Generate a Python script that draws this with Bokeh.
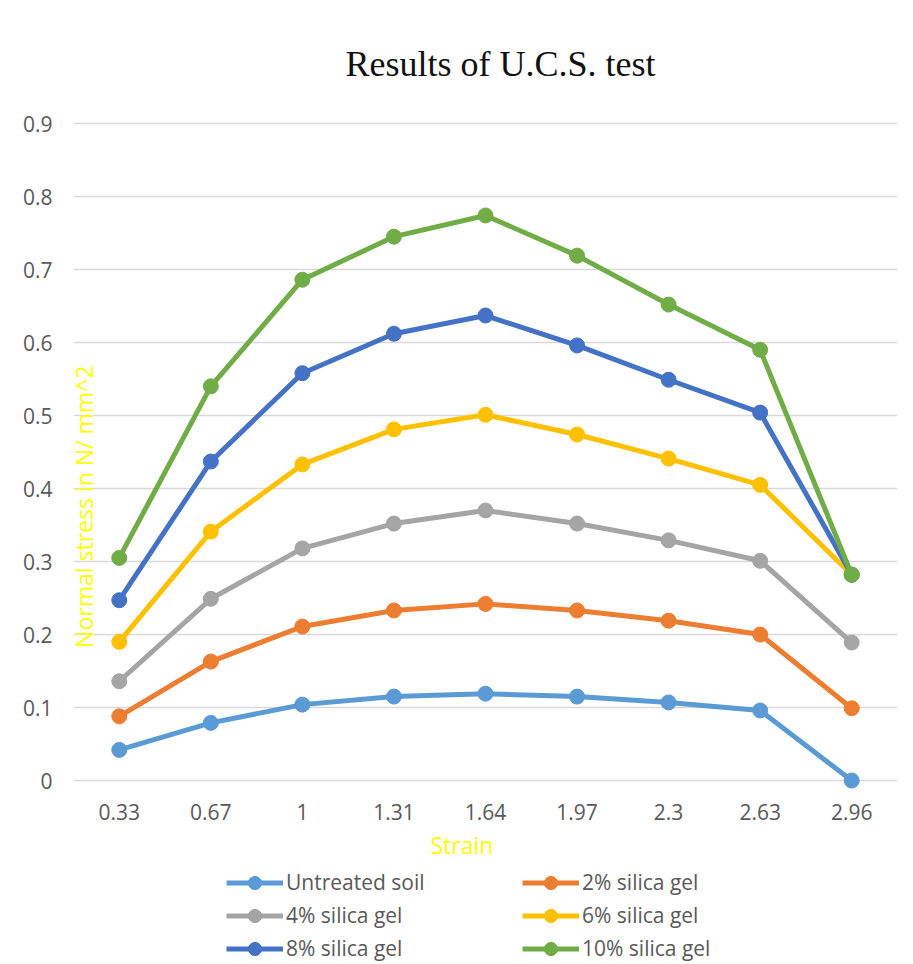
import math
from bokeh.plotting import figure
from bokeh.layouts import column
from bokeh.models import FactorRange, Range1d, FixedTicker, Legend, LegendItem, Label, Title
from bokeh.embed import file_html
from bokeh.resources import INLINE

# ---- data ----
strain = ["0.33", "0.67", "1", "1.31", "1.64", "1.97", "2.3", "2.63", "2.96"]
untreated = [0.042, 0.079, 0.104, 0.115, 0.119, 0.115, 0.107, 0.096, 0.0]
silica_2 = [0.088, 0.163, 0.211, 0.233, 0.242, 0.233, 0.219, 0.200, 0.099]
silica_4 = [0.136, 0.249, 0.318, 0.352, 0.370, 0.352, 0.329, 0.301, 0.189]
silica_6 = [0.190, 0.341, 0.433, 0.481, 0.501, 0.474, 0.441, 0.405, 0.282]
silica_8 = [0.247, 0.437, 0.558, 0.612, 0.637, 0.596, 0.549, 0.504, 0.282]
silica_10 = [0.305, 0.540, 0.686, 0.745, 0.774, 0.719, 0.652, 0.590, 0.282]
series_names = ["Untreated soil", "2% silica gel", "4% silica gel",
                "6% silica gel", "8% silica gel", "10% silica gel"]
series_values = [untreated, silica_2, silica_4, silica_6, silica_8, silica_10]
y_ticks = [0, 0.1, 0.2, 0.3, 0.4, 0.5, 0.6, 0.7, 0.8, 0.9]
y_tick_labels = ["0", "0.1", "0.2", "0.3", "0.4", "0.5", "0.6", "0.7", "0.8", "0.9"]
chart_title = "Results of U.C.S. test"
x_title = "Strain"
y_title = "Normal stress in N/ mm^2"

colors = ["#5B9BD5", "#ED7D31", "#A5A5A5", "#FFC000", "#4472C4", "#70AD47"]
TEXT_GRAY = "#595959"
FONT = "Open Sans"

# main chart: frame reaches the top of the canvas (room for the title above 0.9)
p = figure(width=905, height=868, x_range=FactorRange(*strain),
           y_range=Range1d(-0.015, 1.0685), output_backend="svg",
           toolbar_location=None, min_border_left=73, min_border_right=8,
           min_border_top=0, min_border_bottom=77)
p.title.text = ""
p.outline_line_color = None
p.background_fill_color = "white"
p.border_fill_color = "white"

# axes
p.xaxis.axis_line_color = None
p.xaxis.major_tick_line_color = None
p.xaxis.minor_tick_line_color = None
p.xaxis.major_tick_out = 0
p.xaxis.major_label_standoff = 12
p.xaxis.major_label_text_font = FONT
p.xaxis.major_label_text_font_size = "21px"
p.xaxis.major_label_text_color = TEXT_GRAY

p.yaxis.axis_line_color = None
p.yaxis.major_tick_line_color = None
p.yaxis.minor_tick_line_color = None
p.yaxis.major_tick_out = 0
p.yaxis.major_label_standoff = 21
p.yaxis.ticker = FixedTicker(ticks=y_ticks)
p.yaxis.major_label_overrides = {t: l for t, l in zip(y_ticks, y_tick_labels)}
p.yaxis.major_label_text_font = FONT
p.yaxis.major_label_text_font_size = "21px"
p.yaxis.major_label_text_color = TEXT_GRAY

p.xgrid.grid_line_color = None
p.ygrid.grid_line_color = "#D9D9D9"
p.ygrid.grid_line_width = 1.3
p.ygrid.ticker = FixedTicker(ticks=y_ticks)

for vals, c in zip(series_values, colors):
    p.line(strain, vals, line_color=c, line_width=5)
    p.scatter(strain, vals, size=15, fill_color=c, line_color=c)

# chart title
p.add_layout(Label(x=4.664, y=0.982, text=chart_title, text_color="#111111",
                   text_font="Liberation Serif", text_font_size="36px",
                   text_align="center", text_baseline="middle"))

# x axis title
p.add_layout(Title(text=x_title, text_color="#FFFF00", text_font=FONT,
                   text_font_size="23px", text_font_style="normal",
                   align="left", offset=357, standoff=8), "below")

# y axis title (inside plot area, as in the reference)
p.add_layout(Label(x=0.11, y=0.375, text=y_title,
                   text_color="#FFFF00", text_font=FONT, text_font_size="23px",
                   angle=math.pi / 2, text_align="center", text_baseline="middle"))

# legend strip below the chart
lf = figure(width=905, height=94, x_range=FactorRange(*strain),
            y_range=Range1d(0, 1), output_backend="svg", toolbar_location=None,
            x_axis_location=None, y_axis_location=None,
            min_border_left=0, min_border_right=0, min_border_top=0, min_border_bottom=0)
lf.title.text = ""
lf.outline_line_color = None
lf.xgrid.grid_line_color = None
lf.ygrid.grid_line_color = None
lf.border_fill_color = "white"
lf.background_fill_color = "white"

items = []
for name, vals, c in zip(series_names, series_values, colors):
    rl = lf.line(strain, vals, line_color=c, line_width=5, visible=False)
    rs = lf.scatter(strain, vals, size=15, fill_color=c, line_color=c, visible=False)
    items.append(LegendItem(label=name, renderers=[rl, rs]))

legend = Legend(items=items, orientation="horizontal", ncols=2,
                location=(153, -2.5), padding=0, margin=0, spacing=0,
                glyph_width=57, glyph_height=33, label_width=236, label_height=33,
                label_standoff=3, label_text_font=FONT, label_text_font_size="21px",
                label_text_color=TEXT_GRAY, border_line_color=None,
                background_fill_alpha=0, click_policy="none",
                inactive_fill_alpha=0)
lf.add_layout(legend, "center")

layout = column(p, lf, spacing=0)
open("out.html", "w").write(file_html(layout, INLINE))
